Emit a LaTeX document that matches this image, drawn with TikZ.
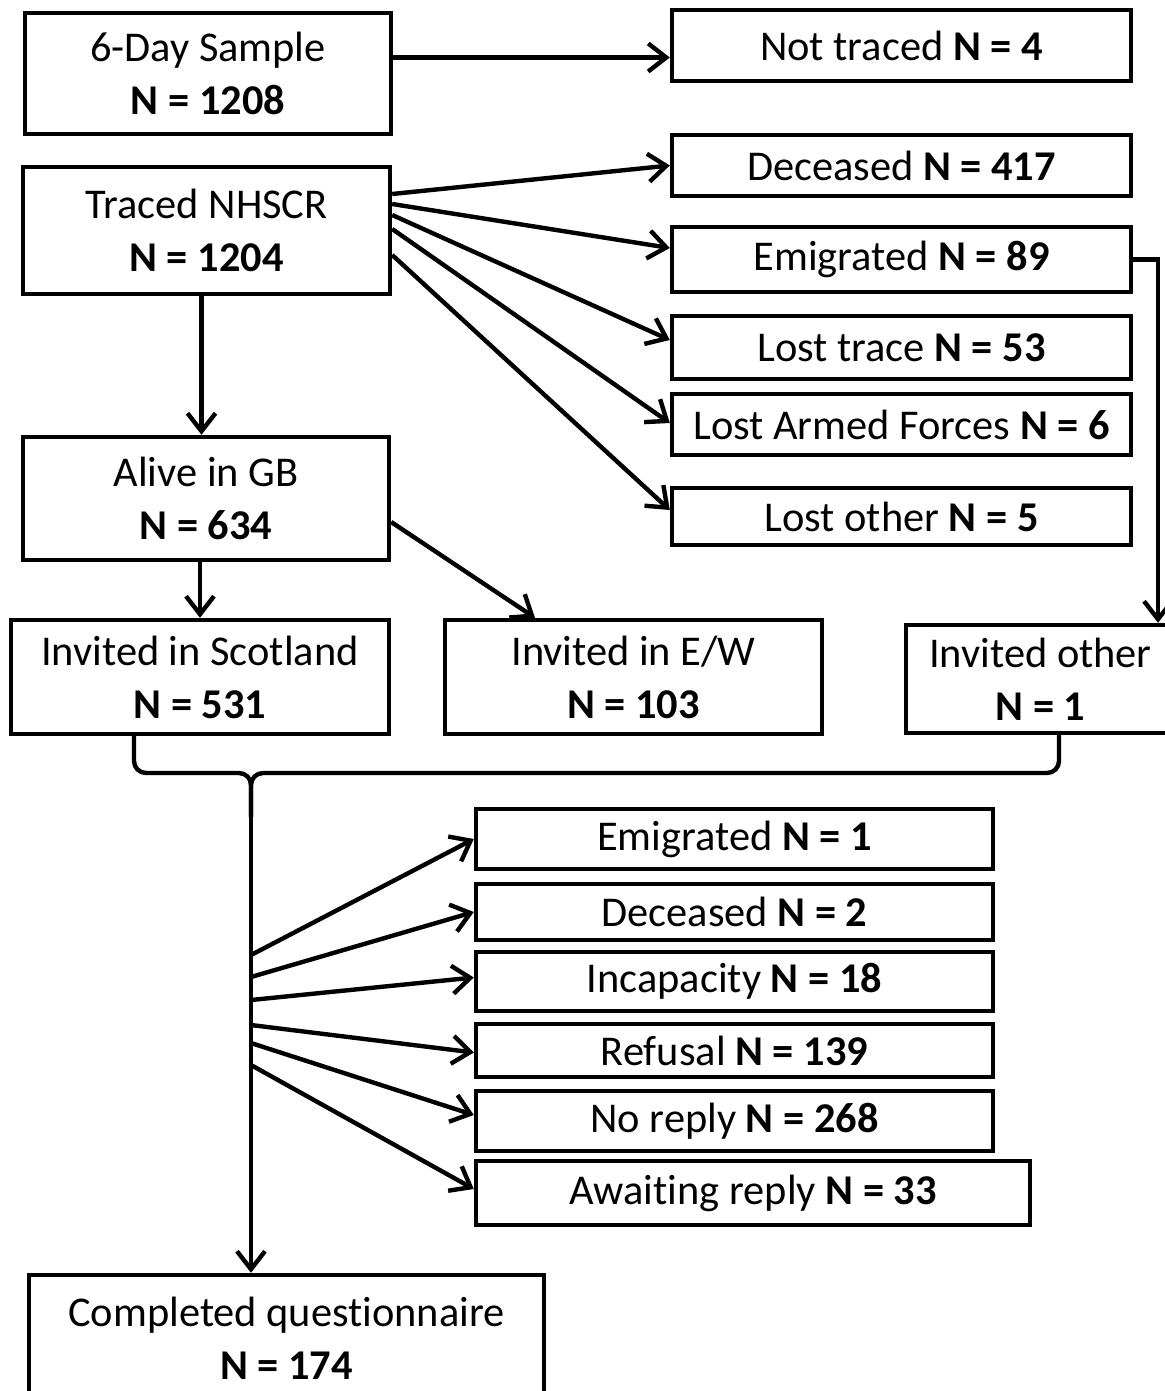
\documentclass[tikz,border=0pt]{standalone}
\usepackage{fontspec}
\setmainfont{Carlito}[Ligatures=NoCommon]
\usetikzlibrary{arrows.meta}
\usetikzlibrary{positioning}
\tikzset{>={Straight Barb[length=9pt,width=14pt]}}
\tikzstyle{line} = [draw, ->, line width=2.2pt]
\tikzstyle{brace} = [draw, line width=2.2pt, rounded corners=6pt]

\begin{document}
\begin{tikzpicture}[x=0.5pt,y=-0.5pt,
      box/.style={draw,
      line width=2.2pt,
      rectangle,
      align=center,
      inner sep=0pt,
      font=\fontsize{21.2}{26.5}\selectfont}]
    \useasboundingbox (0,0) rectangle (1165,1391);
    %% Sample, tracing
    \node [box, minimum width=183pt, minimum height=60.5pt] at (208,73.5) (sample) {6-Day Sample\\\textbf{N = 1208}};
    \node [box, minimum width=229.5pt, minimum height=35.5pt] at (901.5,45.5) (nottraced) {Not traced \textbf{N = 4}};
    \node [box, minimum width=183.5pt, minimum height=63.5pt] at (206.5,230.5) (traced) {Traced NHSCR\\\textbf{N = 1204}};
    %% Removals after tracing
    \node [box, minimum width=229.5pt, minimum height=30.5pt] at (901.5,165.5) (deceasedA) {Deceased \textbf{N = 417}};
    \node [box, minimum width=229.5pt, minimum height=32.5pt] at (901.5,259.5) (emigA) {Emigrated \textbf{N = 89}};
    \node [box, minimum width=229.5pt, minimum height=31.5pt] at (901.5,347.5) (losttrace) {Lost trace \textbf{N = 53}};
    \node [box, minimum width=229.5pt, minimum height=30.5pt] at (901.5,424.5) (lostaf) {Lost Armed Forces \textbf{N = 6}};
    \node [box, minimum width=229.5pt, minimum height=28.5pt] at (901.5,516.5) (lostother) {Lost other \textbf{N = 5}};
    %% Invited
    \node [box, minimum width=183pt, minimum height=61.5pt] at (206,498.5) (alive) {Alive in GB\\\textbf{N = 634}};
    \node [box, minimum width=189pt, minimum height=57pt] at (200,677) (scot) {Invited in Scotland\\\textbf{N = 531}};
    \node [box, minimum width=188.5pt, minimum height=57pt] at (633.5,677) (ew) {Invited in E/W\\\textbf{N = 103}};
    \node [box, minimum width=134.5pt, minimum height=54pt] at (1040.5,679) (other) {Invited other\\\textbf{N = 1}};
    %% Outcomes
    \node [box, minimum width=258.5pt, minimum height=30pt] at (734.5,839) (emigB) {Emigrated \textbf{N = 1}};
    \node [box, minimum width=258.5pt, minimum height=28pt] at (734.5,912) (deceasedB) {Deceased \textbf{N = 2}};
    \node [box, minimum width=258.5pt, minimum height=29.5pt] at (734.5,981.5) (incap) {Incapacity \textbf{N = 18}};
    \node [box, minimum width=258.5pt, minimum height=26.5pt] at (734.5,1050.5) (refusal) {Refusal \textbf{N = 139}};
    \node [box, minimum width=258.5pt, minimum height=30pt] at (734.5,1121) (noreply) {No reply \textbf{N = 268}};
    \node [box, minimum width=277pt, minimum height=32pt] at (753,1193) (awaiting) {Awaiting reply \textbf{N = 33}};
    \node [box, minimum width=257.5pt, minimum height=63pt] at (286.5,1338) (completed) {Completed questionnaire\\\textbf{N = 174}};
    %%
    %% Tracing
    \path [line] ([yshift=8pt]sample.east) -- ([yshift=8pt]sample.east -| nottraced.west);
    \path [line] ([yshift=18.25pt]traced.east) -- (deceasedA.west);
    \path [line] ([yshift=13.25pt]traced.east) -- ([yshift=5.75pt]emigA.west);
    \path [line] ([yshift=7.75pt]traced.east) -- ([yshift=3.75pt]losttrace.west);
    \path [line] ([yshift=0.75pt]traced.east) -- ([yshift=0.75pt]lostaf.west);
    \path [line] ([yshift=-12.25pt]traced.east) -- ([yshift=3.25pt]lostother.west);
    \path [line] ([xshift=-2.5pt]traced.south) -- ([xshift=-2.5pt]traced.south |- alive.north);
    \path [line] (emigA.east) -| ([xshift=58.75pt]other.north);
    %% Alive in GB
    \path [line] (alive.south -| scot.north) -- (scot.north);
    \path [line] ([yshift=-11.75pt]alive.east) -- ([xshift=-49.25pt]ew.north);
    %% Brace
    \coordinate (split) at (251,817);
    \path [brace] ([xshift=-33pt]scot.south) -- (134,773) -- (251,773) -- (split);
    \path [brace] ([xshift=9.25pt]other.south) -- (1059,773) -- (251,773) -- (split);
    \path [line] (split) -- (split |- completed.north);
    %% Outcomes
    \path [line] ([yshift=-69pt]split) -- (emigB.west);
    \path [line] ([yshift=-80pt]split) -- (deceasedB.west);
    \path [line] ([yshift=-91.5pt]split) -- ([yshift=2pt]incap.west);
    \path [line] ([yshift=-104pt]split) -- ([yshift=-1pt]refusal.west);
    \path [line] ([yshift=-113pt]split) -- ([yshift=3pt]noreply.west);
    \path [line] ([yshift=-124pt]split) -- ([yshift=2pt]awaiting.west);
  \end{tikzpicture}
\end{document}
